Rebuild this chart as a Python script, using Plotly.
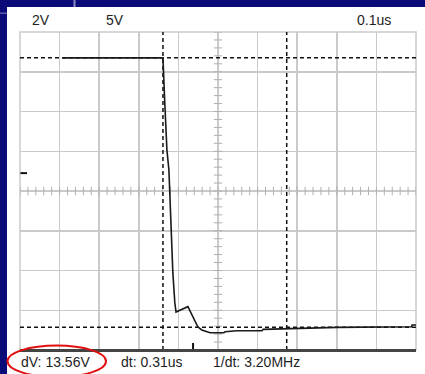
import plotly.graph_objects as go
import numpy as np

# ---- data (time in us, voltage in V) ----
t_us = [0.106, 0.361, 0.365, 0.371, 0.376, 0.379, 0.383, 0.386, 0.391, 0.394,
        0.424, 0.449, 0.459, 0.480, 0.515, 0.518, 0.548, 0.611, 0.614, 0.737,
        0.801, 0.989, 0.990, 1.0]
volts = [6.70, 6.70, 4.72, 2.06, 1.06, -0.45, -2.31, -4.12, -5.63, -6.09,
         -5.82, -6.83, -6.99, -7.13, -7.13, -7.08, -7.03, -7.03, -6.96, -6.91,
         -6.86, -6.83, -6.74, -6.74]

cursor_t = [0.361, 0.6735]      # vertical cursors (us)
cursor_v = [6.70, -6.86]        # horizontal cursors (V)
ground_marker_v = 0.9
trigger_marker_t = 0.437
scale_labels = ["2V", "5V", "0.1us"]

dV = cursor_v[0] - cursor_v[1]
dt = cursor_t[1] - cursor_t[0]
readout = [f"dV: {dV:.2f}V", f"dt: {dt:.2f}us", f"1/dt: {1/dt:.2f}MHz"]

# ---- geometry helpers (pixel -> paper) ----
L, R, T, B, W, H = 20, 416, 32, 350, 425, 374
def px(x):
    return (x - L) / (R - L)
def py(y):
    return (B - y) / (B - T)

NAVY = "#0a0a78"
GRID = "#cacaca"

fig = go.Figure()

# center-line minor ticks
xt = np.arange(0, 1.0001, 0.02)
fig.add_trace(go.Scatter(x=xt, y=[0] * len(xt), mode="markers",
                         marker=dict(symbol="line-ns", size=6, line=dict(width=1, color="#b0b0b0")),
                         hoverinfo="skip", showlegend=False))
yt = np.arange(-8, 8.0001, 0.4)
fig.add_trace(go.Scatter(x=[0.5] * len(yt), y=yt, mode="markers",
                         marker=dict(symbol="line-ew", size=6, line=dict(width=1, color="#b0b0b0")),
                         hoverinfo="skip", showlegend=False))

# cursors
for c in cursor_t:
    fig.add_trace(go.Scatter(x=[c, c], y=[-8, 8], mode="lines",
                             line=dict(color="#111111", width=1.5, dash="4px,3px"),
                             hoverinfo="skip", showlegend=False))
for c in cursor_v:
    fig.add_trace(go.Scatter(x=[0, 1], y=[c, c], mode="lines",
                             line=dict(color="#111111", width=1.5, dash="4px,3px"),
                             hoverinfo="skip", showlegend=False))

# waveform
fig.add_trace(go.Scatter(x=t_us, y=volts, mode="lines",
                         line=dict(color="#1a1a1a", width=1.6),
                         hoverinfo="skip", showlegend=False))

shapes = []
# frame
shapes.append(dict(type="rect", xref="paper", yref="paper", x0=0, x1=1, y0=0, y1=1,
                   line=dict(color=GRID, width=1.5), layer="below"))
shapes.append(dict(type="line", xref="paper", yref="paper", x0=0, x1=1, y0=py(350.5), y1=py(350.5),
                   line=dict(color="#444444", width=3)))
# ground marker
shapes.append(dict(type="line", xref="paper", yref="y", x0=px(20.5), x1=px(27),
                   y0=ground_marker_v, y1=ground_marker_v, line=dict(color="#111111", width=2)))
# trigger marker
shapes.append(dict(type="line", xref="x", yref="paper", x0=trigger_marker_t, x1=trigger_marker_t,
                   y0=py(349), y1=py(343), line=dict(color="#111111", width=2)))
# navy window borders
shapes.append(dict(type="rect", xref="paper", yref="paper", x0=px(-2), x1=px(W + 2),
                   y0=py(7), y1=py(-2), fillcolor=NAVY, line=dict(width=0)))
shapes.append(dict(type="rect", xref="paper", yref="paper", x0=px(-2), x1=px(7),
                   y0=py(H + 2), y1=py(-2), fillcolor=NAVY, line=dict(width=0)))
shapes.append(dict(type="rect", xref="paper", yref="paper", x0=px(73.5), x1=px(75.5),
                   y0=py(7), y1=py(0), fillcolor="#8a8ac0", line=dict(width=0)))
shapes.append(dict(type="rect", xref="paper", yref="paper", x0=px(0), x1=px(7),
                   y0=py(14), y1=py(12.5), fillcolor="#5a5aa8", line=dict(width=0)))
# red ellipse
shapes.append(dict(type="circle", xref="paper", yref="paper", x0=px(7.5), x1=px(106),
                   y0=py(377), y1=py(345.5), line=dict(color="#e01010", width=2)))

annotations = []
font = dict(family="Liberation Sans, Arial, sans-serif", size=14, color="#1e1e1e")
for txt, xc in zip(scale_labels, [41, 115, 374]):
    annotations.append(dict(text=txt, xref="paper", yref="paper", x=px(xc), y=py(20),
                            xanchor="center", yanchor="middle", showarrow=False, font=font))
for txt, xl in zip(readout, [19, 119, 211]):
    annotations.append(dict(text=txt, xref="paper", yref="paper", x=px(xl), y=py(362),
                            xanchor="left", yanchor="middle", showarrow=False, font=font))

fig.update_layout(
    width=W, height=H,
    margin=dict(l=L, r=W - R, t=T, b=H - B, pad=0),
    paper_bgcolor="white", plot_bgcolor="white",
    shapes=shapes, annotations=annotations,
    xaxis=dict(range=[0, 1], dtick=0.1, tick0=0, showgrid=True, gridcolor=GRID, gridwidth=1.5,
               showticklabels=False, zeroline=False, showline=False, ticks="", fixedrange=True),
    yaxis=dict(range=[-8, 8], dtick=2, tick0=0, showgrid=True, gridcolor=GRID, gridwidth=1.5,
               showticklabels=False, zeroline=False, showline=False, ticks="", fixedrange=True),
)

fig.write_html("out.html", config={"displayModeBar": False, "staticPlot": True})

# remove the default 8px page margin so the figure sits at the window origin
with open("out.html", "r", encoding="utf-8") as f:
    html = f.read()
html = html.replace("<head>", "<head><style>html,body{margin:0;padding:0;overflow:hidden;}</style>", 1)
with open("out.html", "w", encoding="utf-8") as f:
    f.write(html)
